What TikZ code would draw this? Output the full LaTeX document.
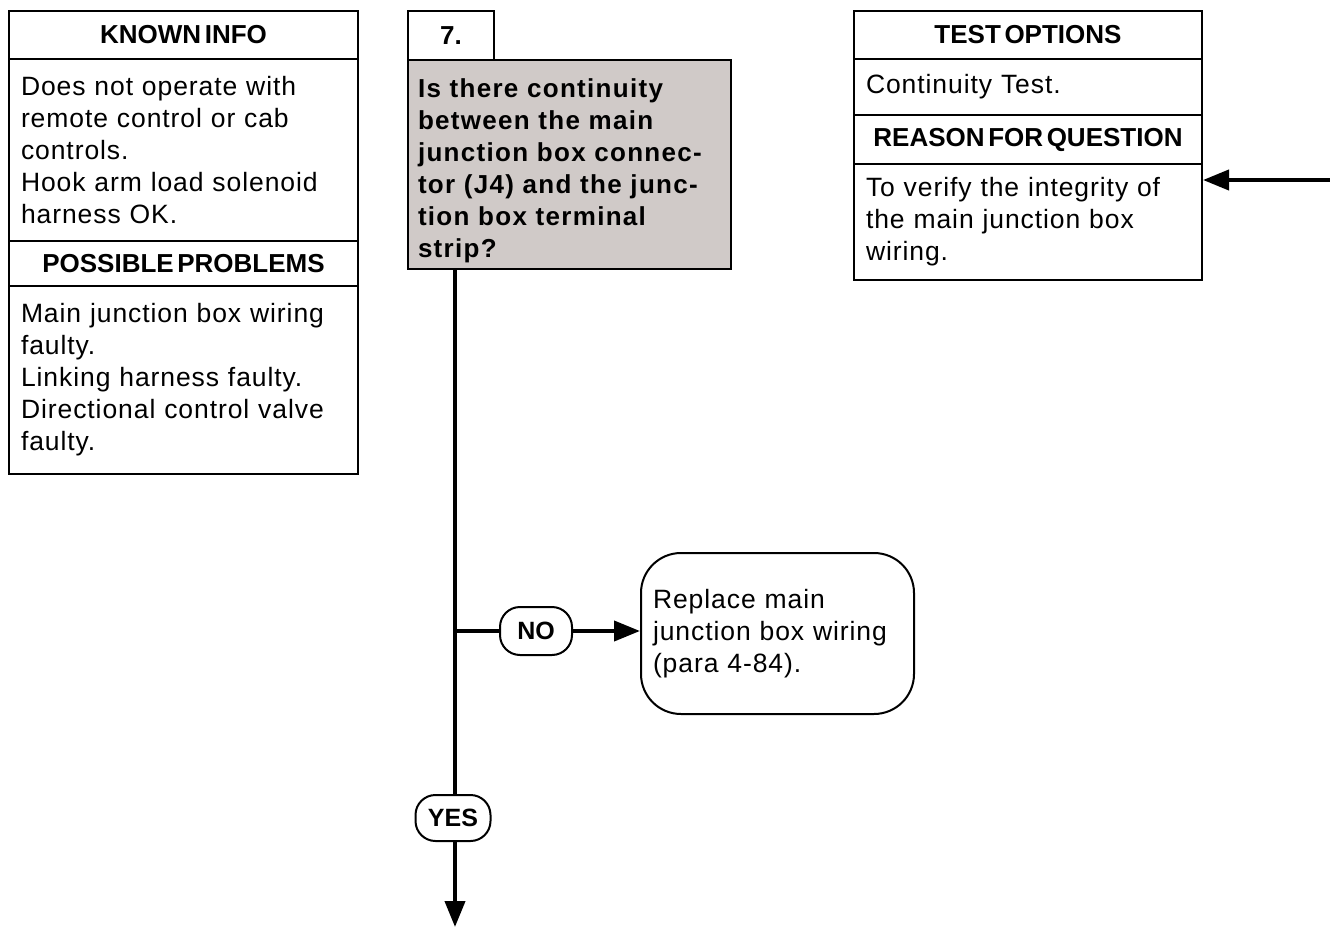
\documentclass[tikz,border=0pt]{standalone}
\usepackage{fontspec}
\setmainfont{Liberation Sans}[LetterSpace=3.5]
\newfontfamily\hdrfont{Liberation Sans}[WordSpace=0.5]
\newfontfamily\questfont{Liberation Sans}[LetterSpace=5,WordSpace=1.3]
\usetikzlibrary{arrows.meta,positioning}

\definecolor{qgray}{RGB}{208,202,200}

\tikzset{
  panel/.style={draw, line width=2pt, anchor=north west, inner sep=0pt},
  hdr/.style={panel, font=\hdrfont\fontsize{26}{30}\selectfont\bfseries},
  txt/.style={panel, align=left, inner xsep=12pt, font=\fontsize{26.5}{32}\selectfont},
  pill/.style={draw, line width=2pt, rounded corners=20pt, inner sep=0pt,
    font=\hdrfont\fontsize{25}{28}\selectfont\bfseries},
  flow/.style={line width=4pt},
  flowarrow/.style={flow, -{Triangle[length=26pt,width=20pt]}}
}

\begin{document}
\begin{tikzpicture}[x=1pt,y=-1pt]
  \useasboundingbox (0,0) rectangle (1330,928);

  % known info column
  \node[hdr, minimum width=349, minimum height=48] (kihead) at (8,10) {KNOWN INFO};
  \node[txt, minimum width=349, minimum height=182, text width=325] (kibody) at (8,58)
    {Does not operate with\\remote control or cab\\controls.\\Hook arm load solenoid\\harness OK.};
  \node[hdr, minimum width=349, minimum height=45] (pphead) at (8,240) {POSSIBLE PROBLEMS};
  \node[txt, minimum width=349, minimum height=188, text width=325] (ppbody) at (8,285)
    {Main junction box wiring\\faulty.\\Linking harness faulty.\\Directional control valve\\faulty.};

  % step 7 question
  \node[hdr, minimum width=86, minimum height=49] (stepno) at (407,10) {7.};
  \node[panel, fill=qgray, minimum width=323, minimum height=209, text width=303,
    inner xsep=10pt, align=left, font=\questfont\fontsize{26}{32}\selectfont\bfseries] (quest) at (407,59)
    {\rule{0pt}{31pt}Is there continuity\\between the main\\junction box connec-\\tor (J4) and the junc-\\tion box terminal\\strip?};

  % test options column
  \node[hdr, minimum width=348, minimum height=48] (tohead) at (853,10) {TEST OPTIONS};
  \node[txt, minimum width=348, minimum height=56, text width=324] (tobody) at (853,58)
    {Continuity Test.};
  \node[hdr, minimum width=348, minimum height=49] (rqhead) at (853,114) {REASON FOR QUESTION};
  \node[txt, minimum width=348, minimum height=116, text width=324] (rqbody) at (853,163)
    {To verify the integrity of\\the main junction box\\wiring.};

  % branches
  \coordinate (qout) at (455,268);
  \node[pill, minimum width=72, minimum height=48] (no) at (536,631) {NO};
  \node[pill, minimum width=75, minimum height=46] (yes) at (453,818) {YES};
  \node[draw, line width=2pt, rounded corners=40pt, anchor=north west, minimum width=273,
    minimum height=161, text width=249, inner xsep=12pt, align=left,
    font=\fontsize{26.5}{32}\selectfont] (repl) at (640,552)
    {Replace main\\junction box wiring\\(para 4-84).};
  \coordinate (fork) at (qout |- no);
  \coordinate (down) at (455,927);
  \coordinate (incoming) at (1330,180);

  \draw[flow] (qout) -- (qout |- yes.north);
  \draw[flow] (fork) -- (no.west);
  \draw[flowarrow] (no.east) -- (repl.west |- no);
  \draw[flowarrow] (qout |- yes.south) -- (down);
  \draw[flowarrow] (incoming) -- (rqbody.east |- incoming);
\end{tikzpicture}
\end{document}
